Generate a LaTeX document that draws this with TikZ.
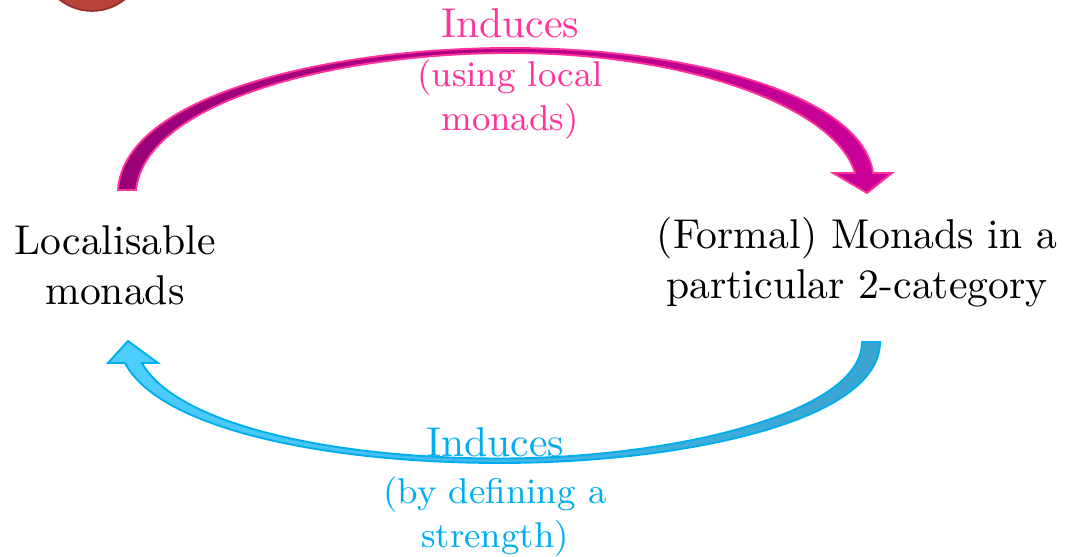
\documentclass[tikz,border=0pt]{standalone}
\usetikzlibrary{positioning, calc}
\definecolor{cpink}{HTML}{FF3399}
\definecolor{cplum}{HTML}{990077}
\definecolor{cmag}{HTML}{CC0099}
\definecolor{ccyan}{HTML}{00AEEF}
\definecolor{csky}{HTML}{4DCFFF}
\definecolor{csteel}{HTML}{3AA3CF}
\definecolor{cred}{HTML}{B8423B}
\definecolor{cdred}{HTML}{962E29}
\tikzset{
  every picture/.style={x=0.24pt, y=-0.24pt},
  mainbox/.style={align=center, inner sep=0pt},
  label/.style={text=#1, inner sep=0pt},
  note/.style={text=#1, font=\fontsize{8.6}{10.4}\selectfont, align=center, inner sep=0pt},
}

\begin{document}
\begin{tikzpicture}
  \useasboundingbox (0,0) rectangle (1066,557);
  \clip (0,0) rectangle (1066,557);
  % logo, cut off at the top
  \fill[cred, draw=cdred, line width=0.4pt] (92,-41) circle[radius=52];
  % the two statements
  \node[mainbox] (loc) at (115,265) {Localisable\\monads};
  \node[mainbox] (formal) at (857,262) {(Formal) Monads in a\\particular 2-category};
  % top arrow
  \path[draw=cpink, line width=0.45pt, left color=cplum, right color=cmag]
    (118,190) .. controls (124,95) and (330,48) .. (510,48)
    .. controls (690,48) and (862,95) .. (873,173)
    -- (892,173) -- (867,193) -- (833,173) -- (855,173)
    .. controls (836,108) and (690,53) .. (510,53)
    .. controls (340,53) and (146,100) .. (136,190) -- cycle;
  \node[label=cpink, anchor=base] (topind) at (510,38) {Induces};
  \node[note=cpink, anchor=north] (topnote) at (510,59) {(using local\\monads)};
  % bottom arrow
  \path[draw=ccyan, line width=0.45pt, left color=csky, right color=csteel]
    (880,342) .. controls (880,422) and (680,463) .. (500,463)
    .. controls (330,463) and (160,430) .. (125,363)
    -- (108,363) -- (128,341) -- (158,363) -- (142,363)
    .. controls (176,424) and (330,458.5) .. (500,458.5)
    .. controls (670,458.5) and (862,414) .. (862,342) -- cycle;
  \node[label=ccyan, anchor=base] (botind) at (495,457) {Induces};
  \node[note=ccyan, anchor=north] (botnote) at (495,476) {(by defining a\\strength)};
\end{tikzpicture}
\end{document}
